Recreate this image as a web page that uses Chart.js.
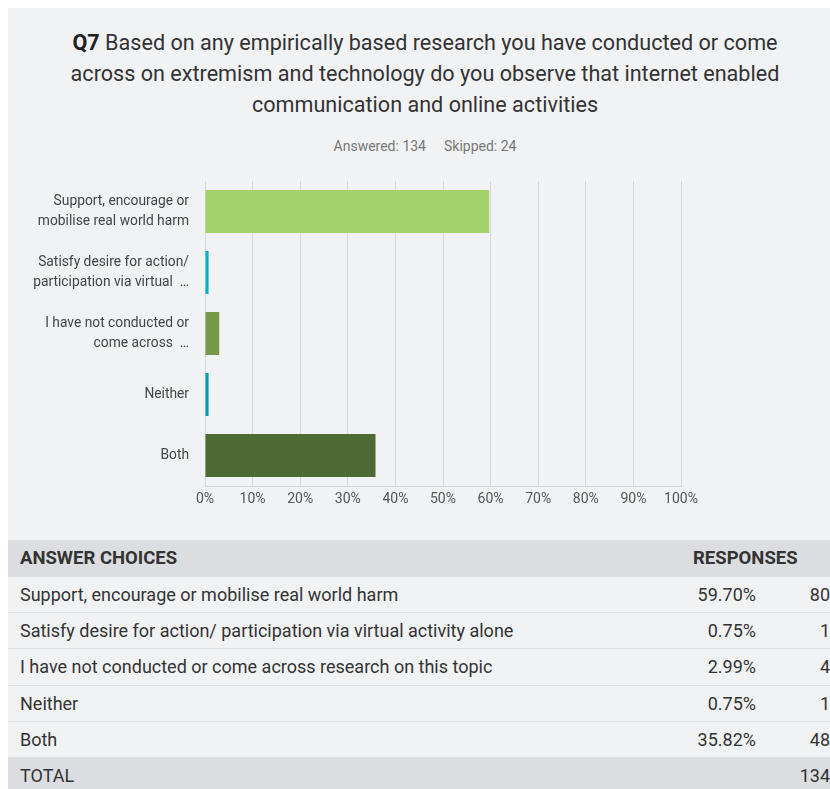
<!DOCTYPE html>
<html>
<head>
<meta charset="utf-8">
<script src="https://cdn.jsdelivr.net/npm/chart.js@4"></script>
<style>
  body { margin: 0; background: #ffffff; font-family: Roboto, "Liberation Sans", sans-serif; }
  #panel { position: absolute; left: 8px; top: 8px; width: 822px; height: 781px; background: #f1f2f4; overflow: hidden; }
  #title { position: absolute; left: 0; top: 19px; width: 834px; text-align: center; font-size: 21.6px; line-height: 31px; color: #333; }
  #title b { color: #222; }
  #meta { position: absolute; left: 0; top: 130px; width: 834px; text-align: center; font-size: 14px; color: #777; }
  #meta span { margin: 0 9px; }
  #chartBox { position: absolute; left: -8px; top: 162px; width: 830px; height: 340px; }
  #answers { position: absolute; left: 0; top: 532px; width: 822px; border-collapse: collapse; table-layout: fixed; font-size: 18px; color: #333; }
  #answers td, #answers th { height: 35.3px; padding: 0; border-bottom: 1px solid #dcdde0; }
  #answers th { background: #dcdde0; font-weight: bold; text-align: left; font-size: 18.5px; color: #333; height: 35.7px; }
  #answers .choice { padding-left: 12px; }
  #answers .pct { text-align: right; padding-right: 14px; }
  #answers .cnt { text-align: right; }
  #answers th.resp { padding-left: 57px; }
  #answers tr.total td { background: #dcdde0; }
</style>
</head>
<body>
<div id="panel">
  <div id="title"><b>Q7</b> Based on any empirically based research you have conducted or come<br>across on extremism and technology do you observe that internet enabled<br>communication and online activities</div>
  <div id="meta"><span>Answered: 134</span><span>Skipped: 24</span></div>
  <div id="chartBox"><canvas id="q7Chart"></canvas></div>
  <table id="answers">
    <colgroup><col style="width:628px"><col style="width:134px"><col style="width:60px"></colgroup>
    <tbody id="answerRows"></tbody>
  </table>
</div>
<script>
// Etiquetas cortas del eje y (como aparecen en la gráfica)
const chartLabels = [
  ['Support, encourage or', 'mobilise real world harm'],
  ['Satisfy desire for action/', 'participation via virtual  \u2026'],
  ['I have not conducted or', 'come across  \u2026'],
  'Neither',
  'Both'
];

// Textos completos de la tabla
const answerChoices = [
  'Support, encourage or mobilise real world harm',
  'Satisfy desire for action/ participation via virtual activity alone',
  'I have not conducted or come across research on this topic',
  'Neither',
  'Both'
];

const responsePercents = [59.70, 0.75, 2.99, 0.75, 35.82];
const responseCounts = [80, 1, 4, 1, 48];
const totalResponses = 134;
const barColors = ['#a3d16b', '#05afc8', '#76994a', '#0099ae', '#4d6b33'];
const xTicks = [0, 10, 20, 30, 40, 50, 60, 70, 80, 90, 100];

// Tabla de respuestas
let rows = '<tr><th class="choice">ANSWER CHOICES</th><th colspan="2" class="resp">RESPONSES</th></tr>';
answerChoices.forEach((choice, i) => {
  rows += `<tr><td class="choice">${choice}</td><td class="pct">${responsePercents[i].toFixed(2)}%</td><td class="cnt">${responseCounts[i]}</td></tr>`;
});
rows += `<tr class="total"><td class="choice">TOTAL</td><td></td><td class="cnt">${totalResponses}</td></tr>`;
document.getElementById('answerRows').innerHTML = rows;

// Gráfica de barras horizontales
const fontFamily = 'Roboto, "Liberation Sans", sans-serif';
new Chart(document.getElementById('q7Chart'), {
  type: 'bar',
  data: {
    labels: chartLabels,
    datasets: [{
      data: responsePercents,
      backgroundColor: barColors,
      borderWidth: 0,
      barPercentage: 0.705,
      categoryPercentage: 1
    }]
  },
  options: {
    indexAxis: 'y',
    responsive: true,
    maintainAspectRatio: false,
    animation: false,
    layout: { padding: { top: 11, right: 149, left: 0, bottom: 0 } },
    scales: {
      x: {
        min: 0,
        max: 100,
        afterBuildTicks: (scale) => { scale.ticks = xTicks.map(v => ({ value: v })); },
        afterFit: (scale) => { scale.height = 24; scale.paddingLeft = 0; scale.paddingRight = 0; },
        grid: { color: '#d6d7da', lineWidth: 1, drawTicks: false },
        border: { display: true, color: '#d6d7da' },
        ticks: {
          color: '#555',
          padding: 5,
          font: { family: fontFamily, size: 14 },
          callback: (v) => v + '%'
        }
      },
      y: {
        afterFit: (scale) => { scale.width = 205; scale.paddingTop = 0; scale.paddingBottom = 0; },
        grid: { display: false, drawTicks: false },
        border: { display: false },
        ticks: {
          color: '#444',
          padding: 16,
          font: { family: fontFamily, size: 13.8, lineHeight: 1.5 }
        }
      }
    },
    plugins: {
      legend: { display: false },
      tooltip: { enabled: false }
    }
  }
});
</script>
</body>
</html>
